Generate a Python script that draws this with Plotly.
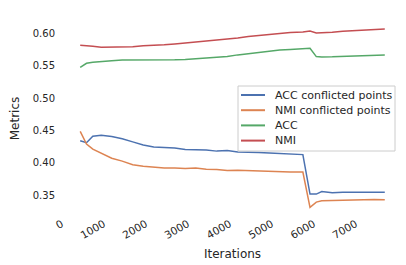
import plotly.graph_objects as go

iterations = [250, 400, 550, 750, 1000, 1250, 1500, 1750, 2000, 2250, 2500, 2750, 3000, 3250,
              3500, 3750, 4000, 4250, 4500, 4750, 5000, 5250, 5550, 5720, 5870, 6000, 6250,
              6500, 6750, 7000, 7250, 7500]

acc_conflicted = [0.434, 0.431, 0.441, 0.4427, 0.4405, 0.437, 0.4323, 0.4275, 0.4245, 0.4232,
                  0.423, 0.4204, 0.4200, 0.4199, 0.418, 0.4188, 0.4168, 0.4168, 0.416, 0.4152,
                  0.4145, 0.4138, 0.4126, 0.3515, 0.3515, 0.3555, 0.3535, 0.3545, 0.3545,
                  0.3535, 0.3535, 0.3545]

nmi_conflicted = [0.4485, 0.429, 0.421, 0.4145, 0.407, 0.4025, 0.397, 0.3945, 0.393, 0.392,
                  0.392, 0.391, 0.392, 0.390, 0.3895, 0.388, 0.3885, 0.3878, 0.3865, 0.386,
                  0.3858, 0.3855, 0.3855, 0.331, 0.339, 0.341, 0.3415, 0.342, 0.3425, 0.3438,
                  0.3432, 0.3427]

acc = [0.5475, 0.554, 0.5555, 0.557, 0.558, 0.559, 0.559, 0.5585, 0.559, 0.559, 0.5595, 0.560,
       0.561, 0.5615, 0.563, 0.5645, 0.567, 0.569, 0.571, 0.5725, 0.5745, 0.5755, 0.5765,
       0.5772, 0.5643, 0.5638, 0.564, 0.5645, 0.565, 0.5655, 0.566, 0.567]

nmi = [0.582, 0.5815, 0.5805, 0.579, 0.579, 0.5792, 0.5795, 0.581, 0.5815, 0.5825, 0.584,
       0.5855, 0.5865, 0.5878, 0.589, 0.591, 0.593, 0.5953, 0.597, 0.599, 0.600, 0.6015,
       0.6025, 0.604, 0.601, 0.601, 0.602, 0.6035, 0.6045, 0.6055, 0.606, 0.607]

series_names = ["ACC conflicted points", "NMI conflicted points", "ACC", "NMI"]
series_values = [acc_conflicted, nmi_conflicted, acc, nmi]
colors = ["#4C72B0", "#DD8452", "#55A868", "#C44E52"]

x_ticks = [0, 1000, 2000, 3000, 4000, 5000, 6000, 7000]
y_ticks = [0.35, 0.40, 0.45, 0.50, 0.55, 0.60]

W, H = 406, 265
ML, MR, MT, MB = 57, 14, 12, 56
PW, PH = W - ML - MR, H - MT - MB


def px_x(px):
    return (px - ML) / PW


def px_y(py):
    return (H - MB - py) / PH


fig = go.Figure()
for name, vals, col in zip(series_names, series_values, colors):
    fig.add_trace(go.Scatter(x=iterations, y=vals, mode="lines", name=name,
                             line=dict(color=col, width=1.5), showlegend=False))

txt = "#262626"

# legend (drawn as frame + sample lines + text labels)
shapes = [dict(type="rect", xref="paper", yref="paper",
               x0=px_x(230), x1=px_x(387), y0=px_y(143), y1=px_y(78),
               line=dict(color="#cccccc", width=1), fillcolor="rgba(255,255,255,0.8)",
               layer="above")]
annotations = []
for i, (name, col) in enumerate(zip(series_names, colors)):
    yy = 87 + i * 15.2
    shapes.append(dict(type="line", xref="paper", yref="paper",
                       x0=px_x(233), x1=px_x(257), y0=px_y(yy), y1=px_y(yy),
                       line=dict(color=col, width=2), layer="above"))
    annotations.append(dict(xref="paper", yref="paper", x=px_x(265), y=px_y(yy),
                            xanchor="left", yanchor="middle", text=name, showarrow=False,
                            font=dict(size=11, color=txt)))

fig.update_layout(
    width=W, height=H,
    margin=dict(l=ML, r=MR, t=MT, b=MB),
    paper_bgcolor="white", plot_bgcolor="white",
    font=dict(family="DejaVu Sans", color=txt, size=10),
    showlegend=False,
    shapes=shapes, annotations=annotations,
    xaxis=dict(range=[-112, 7862], tickvals=x_ticks, ticktext=[str(v) for v in x_ticks],
               tickangle=-30, showgrid=False, zeroline=False, showline=False,
               ticks="", automargin=False, ticklabelshift=-8, ticklabelstandoff=-2,
               tickfont=dict(size=10.5),
               title=dict(text="Iterations", font=dict(size=12, color=txt), standoff=9)),
    yaxis=dict(range=[0.316, 0.621], tickvals=y_ticks, ticktext=[f"{v:.2f}" for v in y_ticks],
               showgrid=False, zeroline=False, showline=False, ticks="",
               ticklabelstandoff=9, automargin=False,
               title=dict(text="Metrics", font=dict(size=12, color=txt), standoff=13)),
)

fig.write_html("out.html")
